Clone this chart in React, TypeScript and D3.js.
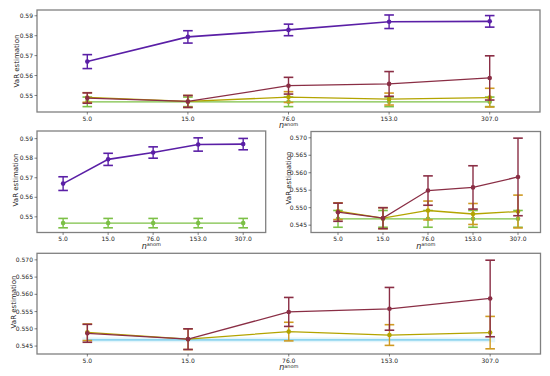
import React from "react";
import * as d3 from "d3";

const xLabels = ["5.0", "15.0", "76.0", "153.0", "307.0"];
const purpleMean = [0.567, 0.5794, 0.5829, 0.587, 0.5872];
const purpleErr = [0.0035, 0.0031, 0.0029, 0.0034, 0.0029];
const maroonMean = [0.5487, 0.547, 0.5549, 0.5558, 0.5588];
const maroonErr = [0.0026, 0.003, 0.0042, 0.0062, 0.0111];
const oliveMean = [0.549, 0.547, 0.5492, 0.5482, 0.5489];
const oliveErr = [0.0024, 0.003, 0.0027, 0.003, 0.0047];
const greenMean = [0.5468, 0.5468, 0.5468, 0.5468, 0.5468];
const greenErr = [0.0024, 0.0024, 0.0024, 0.0024, 0.0024];
const cyanMean = [0.5468, 0.5468, 0.5468, 0.5468, 0.5468];
const ticksA = [0.55, 0.56, 0.57, 0.58, 0.59];
const ticksB = [0.545, 0.55, 0.555, 0.56, 0.565, 0.57];

type Series = { mean: number[]; err?: number[]; color: string; ecolor: string; lw: number; marker: boolean; band?: boolean };

const PURPLE: Series = { mean: purpleMean, err: purpleErr, color: "#5a1fa6", ecolor: "#5a1fa6", lw: 1.6, marker: true };
const MAROON: Series = { mean: maroonMean, err: maroonErr, color: "#8a2e45", ecolor: "#8a2e45", lw: 1.3, marker: true };
const OLIVE: Series = { mean: oliveMean, err: oliveErr, color: "#b3a400", ecolor: "#cf9a22", lw: 1.3, marker: true };
const GREEN: Series = { mean: greenMean, err: greenErr, color: "#7cc046", ecolor: "#7cc046", lw: 1.4, marker: true };
const CYAN: Series = { mean: cyanMean, color: "#8fd4ef", ecolor: "#8fd4ef", lw: 1.6, marker: false, band: true };

type Panel = {
  x0: number; x1: number; y0: number; y1: number;
  xd: [number, number]; yd: [number, number];
  ticks: number[]; fmt: string; series: Series[];
  ylab: [number, number];
};

const panels: Panel[] = [
  { x0: 37, x1: 540, y0: 10, y1: 112, xd: [-0.5, 4.5], yd: [0.5417, 0.5929], ticks: ticksA, fmt: ".2f", series: [GREEN, OLIVE, MAROON, PURPLE], ylab: [16.3, 61] },
  { x0: 37, x1: 265.7, y0: 131, y1: 232.5, xd: [-0.58, 4.5], yd: [0.542, 0.5939], ticks: ticksA, fmt: ".2f", series: [GREEN, PURPLE], ylab: [15.3, 180] },
  { x0: 311, x1: 540.5, y0: 131.5, y1: 232.5, xd: [-0.6, 4.5], yd: [0.5429, 0.5718], ticks: ticksB, fmt: ".3f", series: [GREEN, OLIVE, MAROON], ylab: [288, 178] },
  { x0: 37, x1: 540.5, y0: 253.3, y1: 354, xd: [-0.5, 4.5], yd: [0.5427, 0.5719], ticks: ticksB, fmt: ".3f", series: [CYAN, OLIVE, MAROON], ylab: [13, 302] },
];

function PanelView({ p }: { p: Panel }) {
  const x = d3.scaleLinear().domain(p.xd).range([p.x0, p.x1]);
  const y = d3.scaleLinear().domain(p.yd).range([p.y1, p.y0]);
  const fmt = d3.format(p.fmt);
  const line = d3.line<number>().x((_, i) => x(i)).y((v) => y(v));
  const cap = 4.8;
  return (
    <g>
      {p.series.map((s, si) => (
        <g key={si}>
          {s.band && (
            <rect x={x(-0.05)} width={x(4.05) - x(-0.05)} y={y(s.mean[0] + 0.0007)} height={y(s.mean[0] - 0.0007) - y(s.mean[0] + 0.0007)} fill="#e2f5fb" />
          )}
          {s.err && s.mean.map((m, i) => {
            const e = s.err![i];
            const cx = x(i);
            return (
              <g key={i} stroke={s.ecolor} strokeWidth={1.4}>
                <line x1={cx} x2={cx} y1={y(m - e)} y2={y(m + e)} />
                <line x1={cx - cap} x2={cx + cap} y1={y(m - e)} y2={y(m - e)} strokeWidth={1.6} />
                <line x1={cx - cap} x2={cx + cap} y1={y(m + e)} y2={y(m + e)} strokeWidth={1.6} />
              </g>
            );
          })}
          <path d={line(s.mean) || ""} fill="none" stroke={s.color} strokeWidth={s.lw} />
          {s.marker && s.mean.map((m, i) => <circle key={i} cx={x(i)} cy={y(m)} r={2.3} fill={s.color} />)}
        </g>
      ))}
      <rect x={p.x0} y={p.y0} width={p.x1 - p.x0} height={p.y1 - p.y0} fill="none" stroke="#808080" strokeWidth={1.3} />
      {p.ticks.map((t, i) => (
        <g key={i}>
          <line x1={p.x0 - 2.5} x2={p.x0} y1={y(t)} y2={y(t)} stroke="#333" strokeWidth={0.6} />
          <text x={p.x0 - 4} y={y(t)} dy="0.35em" textAnchor="end" fontSize={6} fill="#222">{fmt(t)}</text>
        </g>
      ))}
      {xLabels.map((l, i) => (
        <g key={i}>
          <line x1={x(i)} x2={x(i)} y1={p.y1} y2={p.y1 + 2.5} stroke="#333" strokeWidth={0.6} />
          <text x={x(i)} y={p.y1 + 8.5} textAnchor="middle" fontSize={6} fill="#222">{l}</text>
        </g>
      ))}
      <text x={(p.x0 + p.x1) / 2} y={p.y1 + 16} textAnchor="middle" fill="#222">
        <tspan fontSize={8} fontStyle="italic">n</tspan>
        <tspan fontSize={5} dy={-2.5}>anom</tspan>
      </text>
      <text transform={`translate(${p.ylab[0] + 2.5},${p.ylab[1]}) rotate(-90)`} textAnchor="middle" fontSize={7} fill="#222">VaR estimation</text>
    </g>
  );
}

export default function App() {
  return (
    <svg width={550} height={376} style={{ position: "absolute", left: 0, top: 0, background: "#fff" }} fontFamily="DejaVu Sans, sans-serif">
      {panels.map((p, i) => <PanelView key={i} p={p} />)}
    </svg>
  );
}
